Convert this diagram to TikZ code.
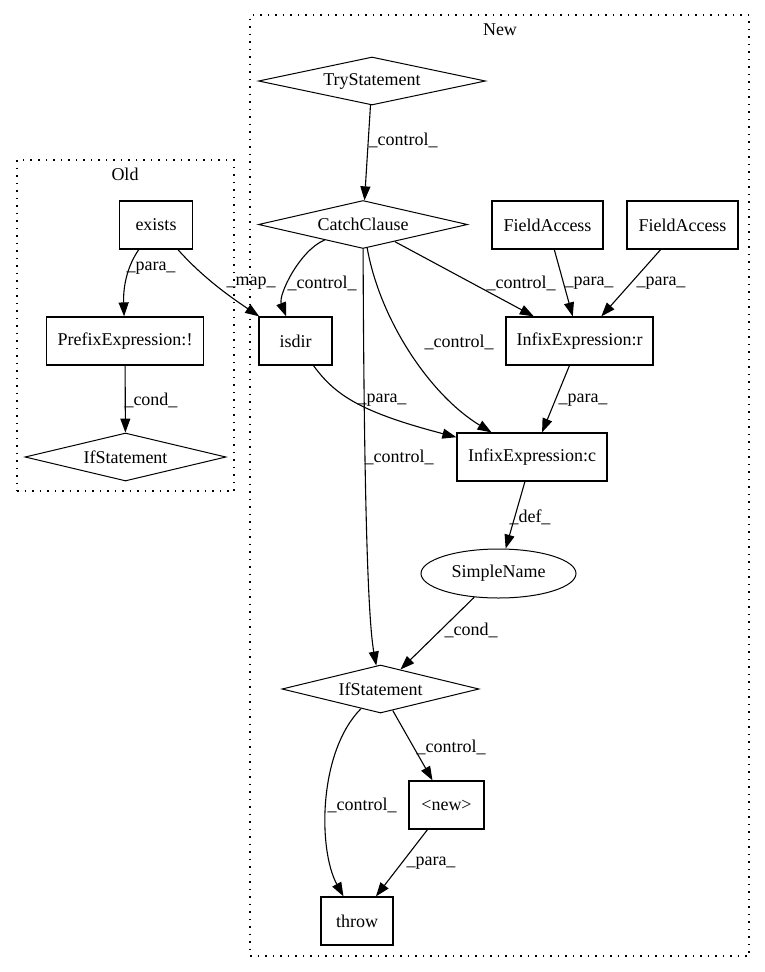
\documentclass[tikz,border=0pt]{standalone}
\usepackage{fontspec}
\setmainfont{Liberation Serif}
\usetikzlibrary{shapes.geometric,arrows.meta}

\begin{document}
\begin{tikzpicture} [
                x=1pt, y=-1pt,
                every node/.style={font=\fontsize{18}{21}\selectfont},
                box/.style={draw,rectangle,minimum height=48,inner sep=2pt,line width=1.2pt},
                decision/.style={draw,diamond,aspect=5,minimum height=48,inner sep=0pt,line width=1pt},
                term/.style={draw,ellipse,inner sep=0pt,line width=1pt},
                cluster/.style={draw,dash pattern=on 1.5pt off 6pt,line width=1.2pt,inner sep=0pt},
                edge/.style={draw,line width=1.1pt,-{Triangle[length=14pt,width=10pt]}},
                lbl/.style={inner sep=0pt},
            ]
            \useasboundingbox (0,0) rectangle (765,972);
            % clusters
            \node[cluster,minimum width=217,minimum height=331] (old) at (125.5,325.5) {};
            \node[cluster,minimum width=499,minimum height=941] (new cl) at (499.5,485.5) {};
            \node[lbl] (old lbl) at (125,174) {Old};
            \node[lbl] (new lbl) at (500,30) {New};
            % nodes
            \foreach \pos/\name/\txt/\bw in {
                    {(156,225)/exists/exists/73}, {(125,341)/prefix/PrefixExpression:!/157},
                    {(547.5,225)/fa1/FieldAccess/111}, {(682.5,225)/fa2/FieldAccess/111},
                    {(295.5,341)/isdir/isdir/73}, {(579.5,341)/infr/InfixExpression:r/147},
                    {(532,457)/infc/InfixExpression:c/150}, {(446.5,805)/newobj/<new>/75},
                    {(357,921)/throw/throw/72}}
                \node[box,minimum width=\bw] (\name) at \pos {\txt};
            \foreach \pos/\name/\bw in {
                    {(125.5,457)/ifold/201}, {(372,81)/try/227},
                    {(363,224.5)/catch/209}, {(380.5,689)/ifnew/197}}
                \node[decision,minimum width=\bw] (\name) at \pos {};
            \node[lbl] at (ifold) {IfStatement};
            \node[lbl] at (try) {TryStatement};
            \node[lbl] at (catch) {CatchClause};
            \node[lbl] at (ifnew) {IfStatement};
            \node[term,minimum width=155,minimum height=49] (simple) at (498.5,573.5) {SimpleName};
            % straight edges
            \foreach \source/ \dest in {
                    try/catch,catch/infr,fa1/infr,fa2/infr,infr/infc,
                    infc/simple,simple/ifnew,ifnew/newobj,newobj/throw,prefix/ifold}
                \path[edge] (\source) -- (\dest);
            % curved edges
            \path[edge] (exists) .. controls (128,265) and (123,285) .. (prefix);
            \path[edge] (exists) .. controls (205,280) and (235,300) .. (isdir);
            \path[edge] (catch) .. controls (300,250) and (278,295) .. (isdir);
            \path[edge] (catch) .. controls (364,500) and (368,620) .. (ifnew);
            \path[edge] (catch) .. controls (380,320) and (430,395) .. (infc);
            \path[edge] (isdir) .. controls (335,395) and (360,412) .. (infc);
            \path[edge] (ifnew) .. controls (318,752) and (318,850) .. (throw);
            % edge labels
            \foreach \pos/\name/\txt in {
                    {(403,140)/l1/\_control\_}, {(322,283)/l2/\_control\_},
                    {(399,457)/l3/\_control\_}, {(459,342)/l4/\_control\_},
                    {(521,283)/l5/\_control\_}, {(589,283)/l6/\_para\_},
                    {(661,283)/l7/\_para\_}, {(583,400)/l8/\_para\_},
                    {(382,400)/l9/\_para\_}, {(530,517)/l10/\_def\_},
                    {(471,630)/l11/\_cond\_}, {(451,747)/l12/\_control\_},
                    {(362,805)/l13/\_control\_}, {(431,863)/l14/\_para\_},
                    {(151,268)/l15/\_para\_}, {(251,283)/l16/\_map\_},
                    {(151,400)/l17/\_cond\_}}
                \node[lbl] (\name) at \pos {\txt};
        \end{tikzpicture}
\end{document}
